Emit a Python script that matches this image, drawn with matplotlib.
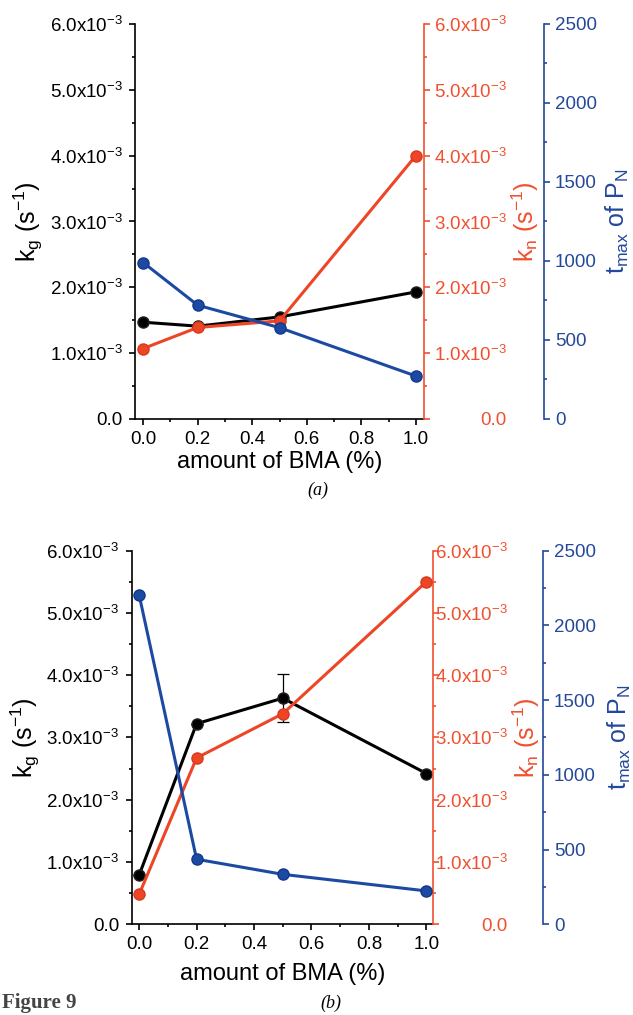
import matplotlib
matplotlib.use("Agg")
import matplotlib.pyplot as plt
from matplotlib.ticker import MultipleLocator, FuncFormatter

plt.rcParams['font.family'] = ['Liberation Sans', 'DejaVu Sans']
plt.rcParams['mathtext.fontset'] = 'custom'
plt.rcParams['mathtext.rm'] = 'Liberation Sans'
plt.rcParams['mathtext.it'] = 'Liberation Sans:italic'
plt.rcParams['mathtext.bf'] = 'Liberation Sans:bold'

# data
bma = [0.0, 0.2, 0.5, 1.0]

kg_a = [1.47e-3, 1.41e-3, 1.55e-3, 1.93e-3]
kn_a = [1.07e-3, 1.39e-3, 1.49e-3, 4.00e-3]
tmax_a = [990, 720, 578, 272]

kg_b = [0.79e-3, 3.22e-3, 3.63e-3, 2.42e-3]
kg_b_err = [0, 0, 0.38e-3, 0]
kn_b = [0.48e-3, 2.67e-3, 3.38e-3, 5.50e-3]
tmax_b = [2203, 435, 334, 223]

BLACK = '#000000'
RED = '#ee4527'
BLUE = '#1c4aa3'
RED_AX = '#f0502f'
BLUE_AX = '#24489a'
TICK_FS = 13.5
LABEL_FS = 18


def sci_fmt(v, pos):
    if abs(v) < 1e-12:
        return '0.0'
    return f'{v*1e3:.1f}x10$^{{\\mathrm{{-3}}}}$'


def style_ticks(ax, color, pad=3.5):
    ax.tick_params(axis='y', which='major', direction='out', length=4.5, width=1.2,
                   colors=color, labelsize=TICK_FS, pad=pad)
    ax.tick_params(axis='y', which='minor', direction='out', length=2.5, width=1.2,
                   colors=color)


def panel(rect, kg, kn, tmax, blue_pos, red_pad, xlim, xpad, bpad, kg_err=None):
    ax = fig.add_axes(rect)
    ax.set_xlim(*xlim)
    ax.set_ylim(0, 6e-3)
    if kg_err is not None:
        ax.errorbar(bma, kg, yerr=kg_err, color=BLACK, lw=2.2, marker='o', ms=8,
                    mec='#222222', capsize=4, elinewidth=0.9, capthick=0.9, zorder=3)
    else:
        ax.plot(bma, kg, color=BLACK, lw=2.2, marker='o', ms=8, mec='#222222', zorder=3)
    ax.yaxis.set_major_locator(MultipleLocator(1e-3))
    ax.yaxis.set_minor_locator(MultipleLocator(0.5e-3))
    ax.yaxis.set_major_formatter(FuncFormatter(sci_fmt))
    ax.xaxis.set_major_locator(MultipleLocator(0.2))
    ax.xaxis.set_minor_locator(MultipleLocator(0.1))
    ax.xaxis.set_major_formatter(FuncFormatter(lambda v, p: f'{v:.1f}'))
    style_ticks(ax, BLACK, pad=4.5)
    ax.tick_params(axis='x', which='major', direction='out', length=4.5, width=1.2,
                   labelsize=TICK_FS, pad=4)
    ax.tick_params(axis='x', which='minor', direction='out', length=2.5, width=1.2)
    ax.spines['top'].set_visible(False)
    ax.spines['right'].set_visible(False)
    for s in ('left', 'bottom'):
        ax.spines[s].set_linewidth(1.2)
    ax.set_ylabel('k$_\\mathrm{g}$ (s$^{\\mathrm{-1}}$)', fontsize=LABEL_FS, labelpad=3)
    ax.set_xlabel('amount of BMA (%)', fontsize=17, labelpad=xpad)

    axr = ax.twinx()
    axr.set_ylim(0, 6e-3)
    axr.plot(bma, kn, color=RED, lw=2.2, marker='o', ms=8, mec='#d83a1e', zorder=3)
    axr.yaxis.set_major_locator(MultipleLocator(1e-3))
    axr.yaxis.set_minor_locator(MultipleLocator(0.5e-3))
    axr.yaxis.set_major_formatter(FuncFormatter(sci_fmt))
    style_ticks(axr, RED_AX, pad=red_pad)
    for lab in axr.get_yticklabels():
        lab.set_horizontalalignment('right')
    for s in ('top', 'left', 'bottom'):
        axr.spines[s].set_visible(False)
    axr.spines['right'].set_color(RED_AX)
    axr.spines['right'].set_linewidth(1.2)
    axr.set_ylabel('k$_\\mathrm{n}$ (s$^{\\mathrm{-1}}$)', fontsize=LABEL_FS, color=RED_AX,
                   labelpad=2)

    axb = ax.twinx()
    axb.set_ylim(0, 2500)
    axb.plot(bma, tmax, color=BLUE, lw=2.2, marker='o', ms=8, mec='#12388a', zorder=3)
    axb.yaxis.set_major_locator(MultipleLocator(500))
    axb.yaxis.set_minor_locator(MultipleLocator(250))
    style_ticks(axb, BLUE_AX)
    axb.spines['right'].set_position(('axes', blue_pos))
    for s in ('top', 'left', 'bottom'):
        axb.spines[s].set_visible(False)
    axb.spines['right'].set_color(BLUE_AX)
    axb.spines['right'].set_linewidth(1.2)
    axb.set_ylabel('t$_\\mathrm{max}$ of P$_\\mathrm{N}$', fontsize=LABEL_FS, color=BLUE_AX,
                   labelpad=bpad)
    return ax


fig = plt.figure(figsize=(6.33, 10.15), dpi=100)

panel([0.2133, 0.5872, 0.4566, 0.3892], kg_a, kn_a, tmax_a, 1.415, 55, (-0.03, 1.03),
      xpad=2, bpad=5)
panel([0.2080, 0.0894, 0.4765, 0.3682], kg_b, kn_b, tmax_b, 1.363, 49, (-0.026, 1.024),
      xpad=7, bpad=7, kg_err=kg_b_err)

fig.text(318 / 633, 1 - 490 / 1015, '(a)', fontsize=13, family='Liberation Serif',
         style='italic', ha='center', va='center')
fig.text(331 / 633, 1 - 1003 / 1015, '(b)', fontsize=13, family='Liberation Serif',
         style='italic', ha='center', va='center')
fig.text(2 / 633, 1 - 1003 / 1015, 'Figure 9', fontsize=15, family='Liberation Serif',
         weight='bold', color='#444444', ha='left', va='center')

fig.savefig('out.png', dpi=100)
